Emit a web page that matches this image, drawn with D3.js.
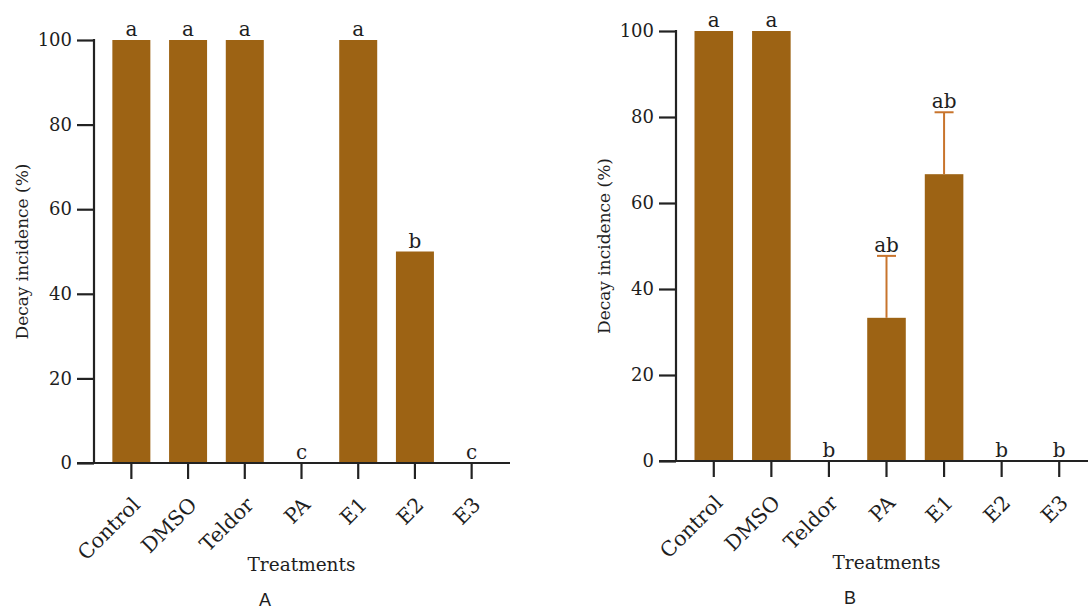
<!DOCTYPE html>
<html>
<head>
<meta charset="utf-8">
<script src="https://cdn.jsdelivr.net/npm/d3@7"></script>
<style>
  body { margin: 0; background: #fff; }
  svg { display: block; }
  .tick text, .lbl { font-family: "DejaVu Serif", "Liberation Serif", serif; fill: #1e1e1e; }
  .panel { font-family: "Liberation Sans", Arial, sans-serif; fill: #1e1e1e; }
</style>
</head>
<body>
<script>
const categories = ["Control", "DMSO", "Teldor", "PA", "E1", "E2", "E3"];
const yTicks = [0, 20, 40, 60, 80, 100];

const valuesA = [100, 100, 100, 0, 100, 50, 0];
const lettersA = ["a", "a", "a", "c", "a", "b", "c"];

const valuesB = [100, 100, 0, 33.3, 66.7, 0, 0];
const errorsB = [0, 0, 0, 14.4, 14.4, 0, 0];
const lettersB = ["a", "a", "b", "ab", "ab", "b", "b"];

const W = 1088, H = 612;
const barColor = "#9d6314";
const errColor = "#c8742c";

const svg = d3.select("body").append("svg")
    .attr("width", W)
    .attr("height", H);

// one panel = one small bar chart
function drawPanel(cfg) {
    const g = svg.append("g");

    const x = d3.scaleBand()
        .domain(categories)
        .range([cfg.bandL, cfg.bandR])
        .paddingInner(0.33)
        .paddingOuter(0.165);

    const y = d3.scaleLinear()
        .domain([0, 100])
        .range([cfg.y0, cfg.y100]);

    // bars
    g.selectAll("rect.bar")
        .data(cfg.values)
        .enter()
        .append("rect")
        .attr("class", "bar")
        .attr("x", (d, i) => x(categories[i]))
        .attr("y", d => y(d))
        .attr("width", x.bandwidth())
        .attr("height", d => cfg.y0 - y(d))
        .attr("fill", barColor);

    // error bars (upper only)
    if (cfg.errors) {
        cfg.values.forEach((v, i) => {
            const e = cfg.errors[i];
            if (!e) return;
            const cx = x(categories[i]) + x.bandwidth() / 2;
            g.append("line")
                .attr("x1", cx).attr("x2", cx)
                .attr("y1", y(v)).attr("y2", y(v + e))
                .attr("stroke", errColor).attr("stroke-width", 2);
            g.append("line")
                .attr("x1", cx - 9.5).attr("x2", cx + 9.5)
                .attr("y1", y(v + e)).attr("y2", y(v + e))
                .attr("stroke", errColor).attr("stroke-width", 2);
        });
    }

    // y axis
    const yAxis = d3.axisLeft(y)
        .tickValues(yTicks)
        .tickSize(17)
        .tickPadding(5);
    const ya = g.append("g")
        .attr("transform", "translate(" + cfg.axisL + ",0)")
        .call(yAxis);
    ya.select(".domain").remove();
    ya.append("line")
        .attr("x1", 0).attr("x2", 0)
        .attr("y1", cfg.y100 - 1).attr("y2", cfg.y0)
        .attr("stroke", "#222").attr("stroke-width", 2.2);
    ya.selectAll(".tick line").attr("stroke", "#222").attr("stroke-width", 2.2);
    ya.selectAll(".tick text").style("font-size", "18px");

    // x axis
    const xAxis = d3.axisBottom(x)
        .tickSize(16)
        .tickPadding(6);
    const xa = g.append("g")
        .attr("transform", "translate(0," + cfg.y0 + ")")
        .call(xAxis);
    xa.select(".domain").remove();
    xa.append("line")
        .attr("x1", cfg.axisL - 17).attr("x2", cfg.axisR)
        .attr("y1", 0).attr("y2", 0)
        .attr("stroke", "#222").attr("stroke-width", 2.2);
    xa.selectAll(".tick line").attr("stroke", "#222").attr("stroke-width", 2.2);
    xa.selectAll(".tick text")
        .style("font-size", "20.5px")
        .attr("text-anchor", "end")
        .attr("dy", "0.35em")
        .attr("transform", "translate(5,38) rotate(-45)")
        .attr("y", 0)
        .attr("x", 0);

    // significance letters
    g.selectAll("text.sig")
        .data(cfg.letters)
        .enter()
        .append("text")
        .attr("class", "lbl")
        .attr("x", (d, i) => x(categories[i]) + x.bandwidth() / 2)
        .attr("y", (d, i) => y(cfg.values[i] + (cfg.errors ? cfg.errors[i] : 0)) - 4)
        .attr("text-anchor", "middle")
        .style("font-size", "20px")
        .text(d => d);

    // axis titles
    g.append("text")
        .attr("class", "lbl")
        .attr("transform", "translate(" + cfg.yTitleX + "," + ((cfg.y0 + cfg.y100) / 2) + ") rotate(-90)")
        .attr("text-anchor", "middle")
        .attr("dy", "0.35em")
        .style("font-size", "17px")
        .text("Decay incidence (%)");

    g.append("text")
        .attr("class", "lbl")
        .attr("x", x(categories[3]) + x.bandwidth() / 2)
        .attr("y", cfg.y0 + 108)
        .attr("text-anchor", "middle")
        .style("font-size", "18.5px")
        .text("Treatments");

    g.append("text")
        .attr("class", "panel")
        .attr("x", cfg.panelX)
        .attr("y", cfg.panelY)
        .attr("text-anchor", "middle")
        .style("font-size", "18px")
        .text(cfg.panel);
}

drawPanel({
    values: valuesA, letters: lettersA, errors: null,
    axisL: 94, axisR: 510, bandL: 103, bandR: 500,
    y0: 463, y100: 40, yTitleX: 22, panelX: 265, panelY: 606, panel: "A"
});

drawPanel({
    values: valuesB, letters: lettersB, errors: errorsB,
    axisL: 676, axisR: 1088, bandL: 685, bandR: 1088,
    y0: 461, y100: 31, yTitleX: 604, panelX: 850, panelY: 604, panel: "B"
});
</script>
</body>
</html>
